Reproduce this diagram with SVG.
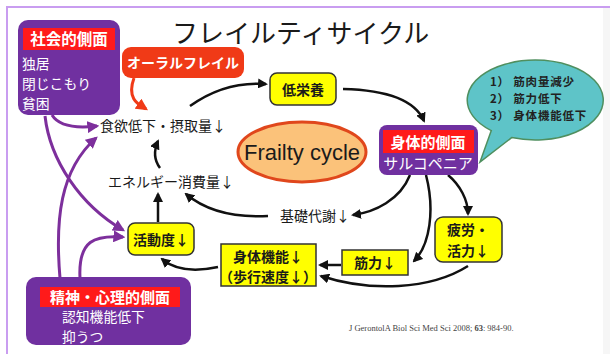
<svg xmlns="http://www.w3.org/2000/svg" width="610" height="354" viewBox="0 0 610 354">
<style>
.jp{font-family:"Noto Sans CJK JP","Noto Sans",sans-serif;}
.w{fill:#fff;font-weight:bold;}
.k{fill:#1a1a1a;font-size:14px;}
.yb{fill:#ffff00;stroke:#333;stroke-width:1.5;}
.pb{fill:#7030a0;}
.rb{fill:#ff1a1a;}
.ar{fill:none;stroke:#111;stroke-width:2.5;marker-end:url(#ah);}
.pa{fill:none;stroke:#7d2f9c;stroke-width:3;marker-end:url(#ph);}
</style>
<defs>
<marker id="ah" viewBox="0 0 10 10" refX="8" refY="5" markerWidth="4" markerHeight="4" orient="auto"><path d="M0,0 L10,5 L0,10 Z" fill="#111"/></marker>
<marker id="ph" viewBox="0 0 10 10" refX="8" refY="5" markerWidth="4" markerHeight="4" orient="auto"><path d="M0,0 L10,5 L0,10 Z" fill="#7d2f9c"/></marker>
<marker id="rh" viewBox="0 0 10 10" refX="8" refY="5" markerWidth="4" markerHeight="4" orient="auto"><path d="M0,0 L10,5 L0,10 Z" fill="#f03a17"/></marker>
</defs>
<rect x="0" y="0" width="610" height="354" fill="#fff"/>
<rect x="603" y="8" width="7" height="346" fill="#f6f6f6"/>
<path d="M7,354 L7,7 L610,7" fill="none" stroke="#c99df0" stroke-width="2"/>

<text id="title" class="jp" x="172" y="43" font-size="26" fill="#1a1a1a">フレイルティサイクル</text>

<g id="connectors">
<path d="M134,78 C126,100 140,105 146,109" fill="none" stroke="#f03a17" stroke-width="3" marker-end="url(#rh)"/>
<path class="ar" d="M190,106 C215,88 240,82 266,84"/>
<path class="ar" d="M343,89 C385,90 415,100 424,121"/>
<path class="ar" d="M410,175 C400,200 375,212 353,215"/>
<path class="ar" d="M268,216 C230,218 205,210 186,194"/>
<path class="ar" d="M158,222 L158,194"/>
<path class="ar" d="M160,168 C154,160 154,150 158,141"/>
<path class="ar" d="M218,267 C195,272 175,270 162,259"/>
<path class="ar" d="M341,265 L320,265"/>
<path class="ar" d="M426,175 C435,210 430,245 414,261"/>
<path class="ar" d="M448,175 C460,185 468,200 468,214"/>
<path class="ar" d="M468,266 C430,290 370,292 321,276"/>
<path class="pa" d="M52,115 C60,128 80,128 97,126"/>
<path class="pa" d="M45,116 C50,160 80,205 123,230"/>
<path class="pa" d="M60,278 C55,220 60,170 96,138"/>
<path class="pa" d="M80,278 C78,240 95,235 123,237"/>
</g>

<g id="social">
<rect class="pb" x="18" y="20" width="102" height="95" rx="10"/>
<rect class="rb" x="23" y="28" width="92" height="22"/>
<text class="jp w" x="69" y="45" font-size="15.5" text-anchor="middle">社会的側面</text>
<text class="jp" x="22" y="69" font-size="13.8" fill="#fff">独居</text>
<text class="jp" x="22" y="89" font-size="13.8" fill="#fff">閉じこもり</text>
<text class="jp" x="22" y="109" font-size="13.8" fill="#fff">貧困</text>
</g>

<g id="oral">
<rect x="122" y="47" width="122" height="31" rx="9" fill="#f03a17"/>
<text class="jp w" x="183" y="68" font-size="14" text-anchor="middle">オーラルフレイル</text>
</g>

<g id="appetite"><text class="jp k" x="100" y="131">食欲低下・摂取量↓</text></g>

<g id="undernutrition">
<rect class="yb" x="270" y="73" width="66" height="32" rx="7"/>
<text class="jp k" x="303" y="95" text-anchor="middle" font-weight="bold">低栄養</text>
</g>

<g id="frailty">
<ellipse cx="302" cy="152" rx="64" ry="30" fill="#fbc27a" stroke="#e0471c" stroke-width="3"/>
<text x="302" y="160" font-family="Liberation Sans, Arial, sans-serif" font-size="22" fill="#1a1a1a" text-anchor="middle">Frailty cycle</text>
</g>

<g id="physical">
<rect class="pb" x="379" y="125" width="99" height="50" rx="8"/>
<rect class="rb" x="383" y="130" width="91" height="23"/>
<text class="jp w" x="428" y="148" font-size="15" text-anchor="middle">身体的側面</text>
<text class="jp" x="428" y="169" font-size="15" fill="#fff" text-anchor="middle">サルコペニア</text>
</g>

<g id="bubble">
<path d="M491.3,130.6 L480,162 L511.7,137.6 A68,40 0 1 0 491.3,130.6 Z" fill="#5ec4c8" stroke="#4f8f5f" stroke-width="1.5"/>
<text class="jp" x="490" y="86" font-size="11.5" fill="#222" font-weight="bold" letter-spacing="0.8">1） 筋肉量減少</text>
<text class="jp" x="490" y="103" font-size="11.5" fill="#222" font-weight="bold" letter-spacing="0.8">2） 筋力低下</text>
<text class="jp" x="490" y="120" font-size="11.5" fill="#222" font-weight="bold" letter-spacing="0.8">3） 身体機能低下</text>
</g>

<g id="energy"><text class="jp k" x="108" y="187">エネルギー消費量↓</text></g>
<g id="bmr"><text class="jp k" x="280" y="221">基礎代謝↓</text></g>

<g id="activity">
<rect class="yb" x="128" y="223" width="66" height="32" rx="7"/>
<text class="jp k" x="161" y="245" text-anchor="middle" font-weight="bold">活動度↓</text>
</g>

<g id="function">
<rect class="yb" x="221" y="244" width="95" height="42"/>
<text class="jp k" x="268" y="262" text-anchor="middle" font-weight="bold" font-size="13.5">身体機能↓</text>
<text class="jp k" x="268" y="282" text-anchor="middle" font-weight="bold" font-size="13.5">（歩行速度↓）</text>
</g>

<g id="strength">
<rect class="yb" x="342" y="250" width="66" height="25"/>
<text class="jp k" x="375" y="268" text-anchor="middle" font-weight="bold">筋力↓</text>
</g>

<g id="fatigue">
<rect class="yb" x="435" y="217" width="67" height="45" rx="8"/>
<text class="jp k" x="468" y="235" text-anchor="middle" font-size="14.5" font-weight="bold">疲労・</text>
<text class="jp k" x="468" y="256" text-anchor="middle" font-size="14.5" font-weight="bold">活力↓</text>
</g>

<g id="mental">
<rect class="pb" x="26" y="277" width="165" height="68" rx="10"/>
<rect class="rb" x="40" y="287" width="140" height="20"/>
<text class="jp w" x="110" y="303" font-size="15" text-anchor="middle">精神・心理的側面</text>
<text class="jp" x="62" y="322" font-size="13.8" fill="#fff">認知機能低下</text>
<text class="jp" x="62" y="342" font-size="13.8" fill="#fff">抑うつ</text>
</g>

<text id="citation" x="349" y="331" font-family="Liberation Serif, serif" font-size="8.5" fill="#444">J GerontolA Biol Sci Med Sci 2008; <tspan font-weight="bold">63</tspan>: 984-90.</text>
</svg>
